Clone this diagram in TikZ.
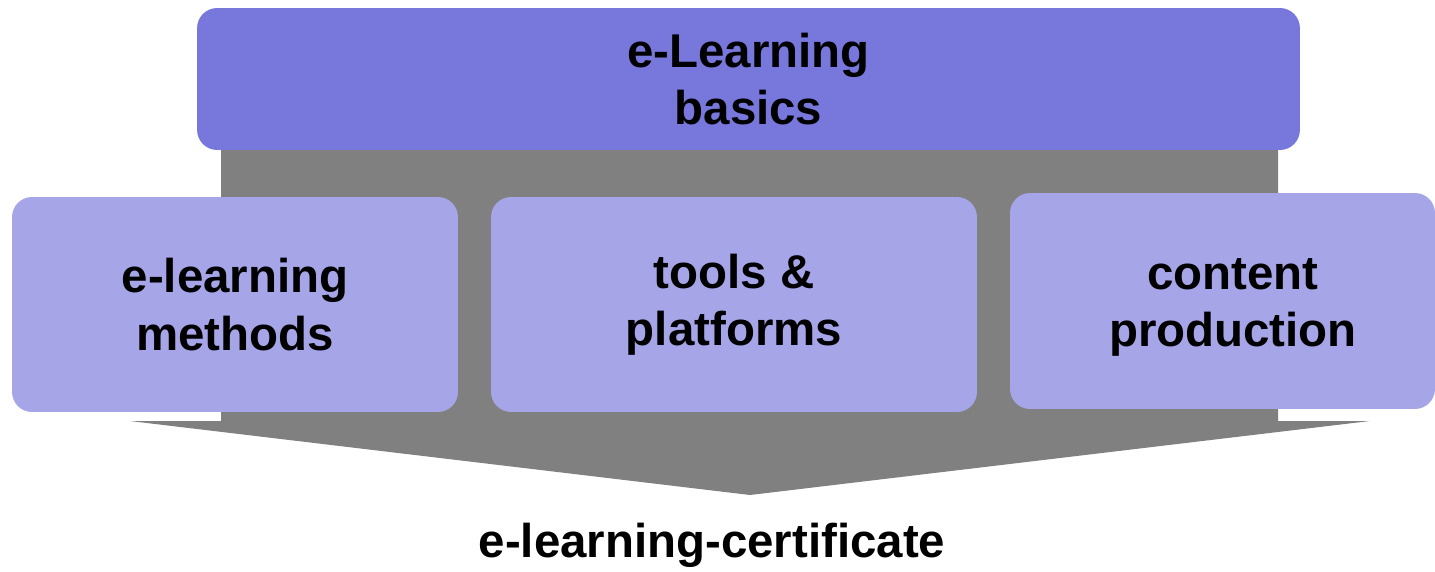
\documentclass[tikz,border=0pt]{standalone}
\usepackage{fontspec}
\setmainfont{Liberation Sans}
\definecolor{topblue}{RGB}{120,120,220}
\definecolor{lavender}{RGB}{165,165,232}
\definecolor{arrowgray}{RGB}{128,128,128}
\begin{document}
\begin{tikzpicture}[
		x=0.02cm, y=-0.02cm,
		every node/.style={font=\fontsize{27}{32.5}\selectfont\bfseries, align=center, inner sep=0pt},
		box/.style={rounded corners=0.4cm, fill=lavender, minimum height=4.3cm}
	]
		\useasboundingbox (0,0) rectangle (1435,571);
		% gray arrow behind the boxes
		\fill[arrowgray] (221,150) -- (1278,150) -- (1278,421) -- (1370,421)
			-- (750,495) -- (130,421) -- (221,421) -- cycle;
		\node[rounded corners=0.4cm, fill=topblue, minimum width=22.06cm, minimum height=2.84cm] (basics) at (748.5,79) {e-Learning\\basics};
		\node[box, minimum width=8.92cm] (methods) at (235,304.5) {e-learning\\methods};
		\node[box, minimum width=9.72cm] (tools) at (734,304.5) {tools \&\\platforms};
		\node[box, minimum width=8.5cm, minimum height=4.32cm] (content) at (1222.5,301) {};
		\node (contenttext) at (1233,307) {content\\production};
		\node (cert) at (712,545) {e-learning-certificate};
	\end{tikzpicture}
\end{document}
